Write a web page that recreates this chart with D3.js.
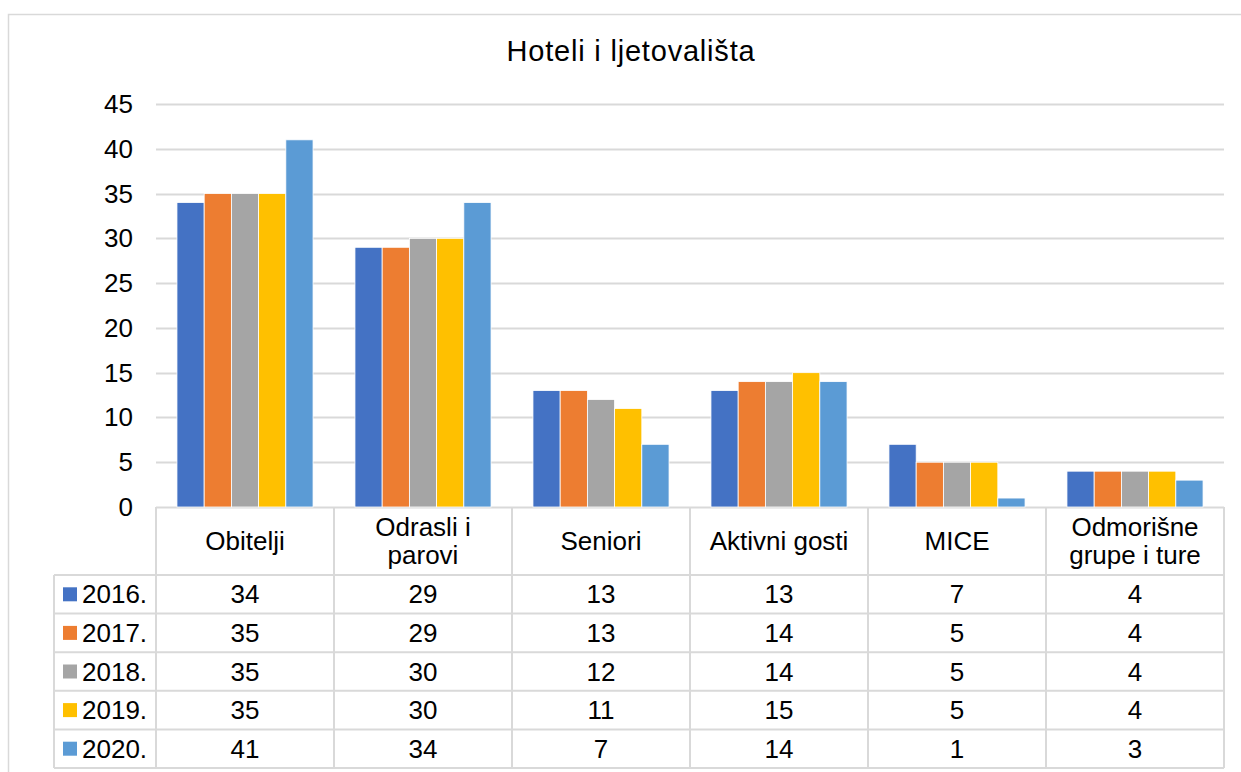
<!DOCTYPE html>
<html>
<head>
<meta charset="utf-8">
<script src="https://cdn.jsdelivr.net/npm/d3@7"></script>
<style>
  body { margin: 0; background: #fff; }
  text { font-family: "Liberation Sans", Arial, sans-serif; fill: #000; }
</style>
</head>
<body>
<div id="chart-area"></div>
<script>
// data
var categories = ["Obitelji", "Odrasli i parovi", "Seniori", "Aktivni gosti", "MICE", "Odmorišne grupe i ture"];
var categoryLines = [["Obitelji"], ["Odrasli i", "parovi"], ["Seniori"], ["Aktivni gosti"], ["MICE"], ["Odmorišne", "grupe i ture"]];
var years = ["2016.", "2017.", "2018.", "2019.", "2020."];
var v2016 = [34, 29, 13, 13, 7, 4];
var v2017 = [35, 29, 13, 14, 5, 4];
var v2018 = [35, 30, 12, 14, 5, 4];
var v2019 = [35, 30, 11, 15, 5, 4];
var v2020 = [41, 34, 7, 14, 1, 3];
var yTicks = [0, 5, 10, 15, 20, 25, 30, 35, 40, 45];
var colors = ["#4472c4", "#ed7d31", "#a5a5a5", "#ffc000", "#5b9bd5"];

var series = [v2016, v2017, v2018, v2019, v2020];

var W = 1241, H = 772;
var plot = {left: 156, right: 1224, top: 104, bottom: 507};
var rowH = 38.6;
var headerBottom = 575;
var legendLeft = 54;
var fs = "26px";

var svg = d3.select("#chart-area")
  .append("svg")
  .attr("width", W)
  .attr("height", H);

// chart border
svg.append("rect")
  .attr("x", 8.5).attr("y", 14.5)
  .attr("width", 1260).attr("height", 800)
  .attr("fill", "#fff")
  .attr("stroke", "#d9d9d9")
  .attr("stroke-width", 1.5);

// title
svg.append("text")
  .attr("x", 631).attr("y", 61)
  .attr("text-anchor", "middle")
  .style("font-size", "29px")
  .style("letter-spacing", "0.8px")
  .text("Hoteli i ljetovališta");

// scales
var x0 = d3.scaleBand()
  .domain(categories)
  .range([plot.left, plot.right]);

var x1 = d3.scaleBand()
  .domain(years)
  .range([0, x0.bandwidth()])
  .paddingOuter(0.77)
  .paddingInner(0);

var yScale = d3.scaleLinear()
  .domain([0, 45])
  .range([plot.bottom, plot.top]);

// gridlines
svg.append("g")
  .selectAll("line")
  .data(yTicks)
  .enter()
  .append("line")
  .attr("x1", plot.left)
  .attr("x2", plot.right)
  .attr("y1", function(d) { return Math.round(yScale(d)) + 0.5; })
  .attr("y2", function(d) { return Math.round(yScale(d)) + 0.5; })
  .attr("stroke", "#d9d9d9")
  .attr("stroke-width", 2);

// y axis labels
svg.append("g")
  .selectAll("text")
  .data(yTicks)
  .enter()
  .append("text")
  .attr("x", 133)
  .attr("y", function(d) { return yScale(d) + 9; })
  .attr("text-anchor", "end")
  .style("font-size", fs)
  .text(function(d) { return d; });

// bars
var groups = svg.append("g")
  .selectAll("g")
  .data(categories)
  .enter()
  .append("g")
  .attr("transform", function(d) { return "translate(" + x0(d) + ",0)"; });

groups.selectAll("rect")
  .data(function(d, i) {
    return years.map(function(yr, j) { return {year: yr, value: series[j][i], k: j}; });
  })
  .enter()
  .append("rect")
  .attr("x", function(d) { return x1(d.year); })
  .attr("width", x1.bandwidth())
  .attr("y", function(d) { return yScale(d.value); })
  .attr("height", function(d) { return yScale(0) - yScale(d.value); })
  .attr("fill", function(d) { return colors[d.k]; })
  .attr("stroke", "#fff")
  .attr("stroke-width", 0.8);

// data table
var table = svg.append("g");
var lineColor = "#d9d9d9";
var tableBottom = headerBottom + rowH * years.length;

// vertical lines
var vx = categories.map(function(c) { return x0(c); }).concat([plot.right]);
table.selectAll(".vline")
  .data(vx)
  .enter()
  .append("line")
  .attr("class", "vline")
  .attr("x1", function(d) { return d; })
  .attr("x2", function(d) { return d; })
  .attr("y1", plot.bottom)
  .attr("y2", tableBottom)
  .attr("stroke", lineColor)
  .attr("stroke-width", 2);

// legend column left line
table.append("line")
  .attr("x1", legendLeft).attr("x2", legendLeft)
  .attr("y1", headerBottom).attr("y2", tableBottom)
  .attr("stroke", lineColor).attr("stroke-width", 2);

// horizontal lines
var hy = d3.range(years.length + 1).map(function(i) { return headerBottom + i * rowH; });
table.selectAll(".hline")
  .data(hy)
  .enter()
  .append("line")
  .attr("class", "hline")
  .attr("x1", legendLeft)
  .attr("x2", plot.right)
  .attr("y1", function(d) { return d; })
  .attr("y2", function(d) { return d; })
  .attr("stroke", lineColor)
  .attr("stroke-width", 2);

// header labels
categories.forEach(function(c, i) {
  var lines = categoryLines[i];
  var cx = x0(c) + x0.bandwidth() / 2;
  var cy = (plot.bottom + headerBottom) / 2;
  var lh = 28;
  lines.forEach(function(l, j) {
    table.append("text")
      .attr("x", cx)
      .attr("y", cy + (j - (lines.length - 1) / 2) * lh + 9)
      .attr("text-anchor", "middle")
      .style("font-size", fs)
      .text(l);
  });
});

// rows
years.forEach(function(yr, j) {
  var rowTop = headerBottom + j * rowH;
  var cy = rowTop + rowH / 2;
  table.append("rect")
    .attr("x", 63).attr("y", cy - 7)
    .attr("width", 14).attr("height", 14)
    .attr("fill", colors[j]);
  table.append("text")
    .attr("x", 82).attr("y", cy + 9)
    .style("font-size", fs)
    .text(yr);
  categories.forEach(function(c, i) {
    table.append("text")
      .attr("x", x0(c) + x0.bandwidth() / 2)
      .attr("y", cy + 9)
      .attr("text-anchor", "middle")
      .style("font-size", fs)
      .text(series[j][i]);
  });
});
</script>
</body>
</html>
